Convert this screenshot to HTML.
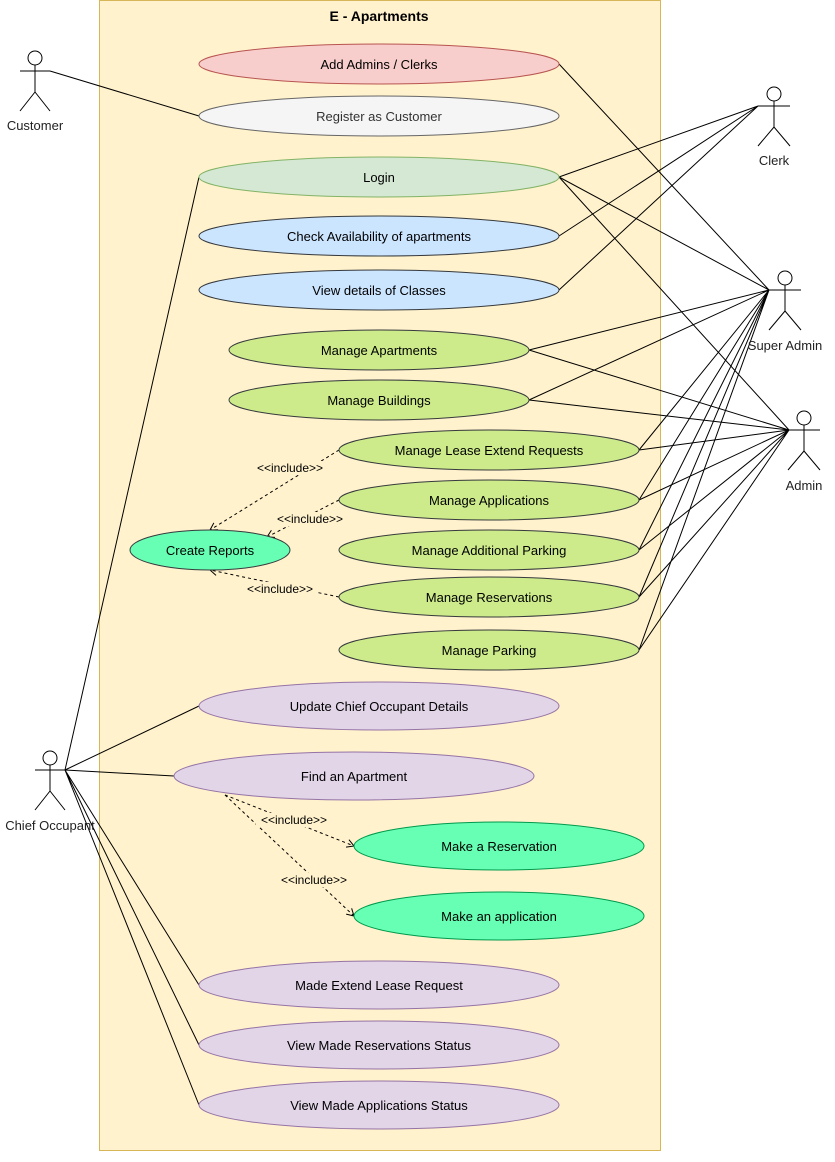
<!DOCTYPE html>
<html><head><style>body{margin:0;background:#fff}svg{display:block;font-family:"Liberation Sans",Arial,sans-serif}</style></head><body>
<svg width="835" height="1162" viewBox="0 0 835 1162" xmlns="http://www.w3.org/2000/svg">
<defs><marker id="a" markerWidth="10" markerHeight="10" refX="8" refY="5" orient="auto" markerUnits="userSpaceOnUse"><path d="M1,1 L8,5 L1,9" fill="none" stroke="#000" stroke-width="1"/></marker></defs>
<rect x="99.5" y="0.5" width="561" height="1150" fill="#fff2cc" stroke="#d6b656"/>
<text x="379" y="21" text-anchor="middle" font-size="14" font-weight="bold">E - Apartments</text>
<g stroke="#000" stroke-width="1" fill="none">
<path d="M50,71 L199,116"/>
<path d="M758,106 L559,177 M758,106 L559,236 M758,106 L559,290"/>
<path d="M769,290 L559,64 M769,290 L559,177 M769,290 L529,350 M769,290 L529,400 M769,290 L639,450 M769,290 L639,500 M769,290 L639,550 M769,290 L639,597 M769,290 L639,650"/>
<path d="M789,430 L559,177 M789,430 L529,350 M789,430 L529,400 M789,430 L639,450 M789,430 L639,500 M789,430 L639,550 M789,430 L639,597 M789,430 L639,650"/>
<path d="M65,770 L199,177 M65,770 L199,706 M65,770 L174,776 M65,770 L199,985 M65,770 L199,1045 M65,770 L199,1105"/>
</g>
<g stroke="#000" stroke-dasharray="3,3" fill="none" marker-end="url(#a)">
<path d="M339,450 L210,530"/><path d="M339,500 L267,537"/><path d="M339,597 L210,570"/>
<path d="M225,795 L354,846"/><path d="M225,795 L354,916"/>
</g>
<g font-size="13" text-anchor="middle">
<ellipse cx="379" cy="64" rx="180" ry="20" fill="#f8cecc" stroke="#b85450"/><text x="379" y="69">Add Admins / Clerks</text>
<ellipse cx="379" cy="116" rx="180" ry="20" fill="#f5f5f5" stroke="#666"/><text x="379" y="121" fill="#333">Register as Customer</text>
<ellipse cx="379" cy="177" rx="180" ry="20" fill="#d5e8d4" stroke="#82b366"/><text x="379" y="182">Login</text>
<ellipse cx="379" cy="236" rx="180" ry="20" fill="#cce5ff" stroke="#36393d"/><text x="379" y="241">Check Availability of apartments</text>
<ellipse cx="379" cy="290" rx="180" ry="20" fill="#cce5ff" stroke="#36393d"/><text x="379" y="295">View details of Classes</text>
<ellipse cx="379" cy="350" rx="150" ry="20" fill="#cdeb8b" stroke="#36393d"/><text x="379" y="355">Manage Apartments</text>
<ellipse cx="379" cy="400" rx="150" ry="20" fill="#cdeb8b" stroke="#36393d"/><text x="379" y="405">Manage Buildings</text>
<ellipse cx="489" cy="450" rx="150" ry="20" fill="#cdeb8b" stroke="#36393d"/><text x="489" y="455">Manage Lease Extend Requests</text>
<ellipse cx="489" cy="500" rx="150" ry="20" fill="#cdeb8b" stroke="#36393d"/><text x="489" y="505">Manage Applications</text>
<ellipse cx="489" cy="550" rx="150" ry="20" fill="#cdeb8b" stroke="#36393d"/><text x="489" y="555">Manage Additional Parking</text>
<ellipse cx="489" cy="597" rx="150" ry="20" fill="#cdeb8b" stroke="#36393d"/><text x="489" y="602">Manage Reservations</text>
<ellipse cx="489" cy="650" rx="150" ry="20" fill="#cdeb8b" stroke="#36393d"/><text x="489" y="655">Manage Parking</text>
<ellipse cx="210" cy="550" rx="80" ry="20" fill="#66ffb3" stroke="#36393d"/><text x="210" y="555">Create Reports</text>
<ellipse cx="379" cy="706" rx="180" ry="24" fill="#e1d5e7" stroke="#9673a6"/><text x="379" y="711">Update Chief Occupant Details</text>
<ellipse cx="354" cy="776" rx="180" ry="24" fill="#e1d5e7" stroke="#9673a6"/><text x="354" y="781">Find an Apartment</text>
<ellipse cx="499" cy="846" rx="145" ry="24" fill="#66ffb3" stroke="#00994d"/><text x="499" y="851">Make a Reservation</text>
<ellipse cx="499" cy="916" rx="145" ry="24" fill="#66ffb3" stroke="#00994d"/><text x="499" y="921">Make an application</text>
<ellipse cx="379" cy="985" rx="180" ry="24" fill="#e1d5e7" stroke="#9673a6"/><text x="379" y="990">Made Extend Lease Request</text>
<ellipse cx="379" cy="1045" rx="180" ry="24" fill="#e1d5e7" stroke="#9673a6"/><text x="379" y="1050">View Made Reservations Status</text>
<ellipse cx="379" cy="1105" rx="180" ry="24" fill="#e1d5e7" stroke="#9673a6"/><text x="379" y="1110">View Made Applications Status</text>
</g>
<g font-size="12" text-anchor="middle" fill="#000">
<rect x="252" y="461" width="76" height="14" fill="#fff2cc"/><text x="290" y="472">&lt;&lt;include&gt;&gt;</text>
<rect x="272" y="512" width="76" height="14" fill="#fff2cc"/><text x="310" y="523">&lt;&lt;include&gt;&gt;</text>
<rect x="242" y="582" width="76" height="14" fill="#fff2cc"/><text x="280" y="593">&lt;&lt;include&gt;&gt;</text>
<rect x="256" y="813" width="76" height="14" fill="#fff2cc"/><text x="294" y="824">&lt;&lt;include&gt;&gt;</text>
<rect x="276" y="873" width="76" height="14" fill="#fff2cc"/><text x="314" y="884">&lt;&lt;include&gt;&gt;</text>
</g>
<g stroke="#000" fill="#fff" stroke-width="1">
<g transform="translate(35,51)"><circle cx="0" cy="7" r="7"/><path d="M0,14 V41 M-15,20 H15 M0,41 L-15,60 M0,41 L15,60" fill="none"/></g>
<g transform="translate(774,87)"><circle cx="0" cy="7" r="7"/><path d="M0,14 V40 M-16,19 H16 M0,40 L-16,59 M0,40 L16,59" fill="none"/></g>
<g transform="translate(785,271)"><circle cx="0" cy="7" r="7"/><path d="M0,14 V40 M-16,19 H16 M0,40 L-16,59 M0,40 L16,59" fill="none"/></g>
<g transform="translate(804,411)"><circle cx="0" cy="7" r="7"/><path d="M0,14 V40 M-16,19 H16 M0,40 L-16,59 M0,40 L16,59" fill="none"/></g>
<g transform="translate(50,751)"><circle cx="0" cy="7" r="7"/><path d="M0,14 V40 M-15,19 H15 M0,40 L-15,59 M0,40 L15,59" fill="none"/></g>
</g>
<g font-size="13" text-anchor="middle" fill="#222">
<text x="35" y="130">Customer</text>
<text x="774" y="165">Clerk</text>
<text x="785" y="350">Super Admin</text>
<text x="804" y="490">Admin</text>
<text x="50" y="830">Chief Occupant</text>
</g>
</svg>
</body></html>
